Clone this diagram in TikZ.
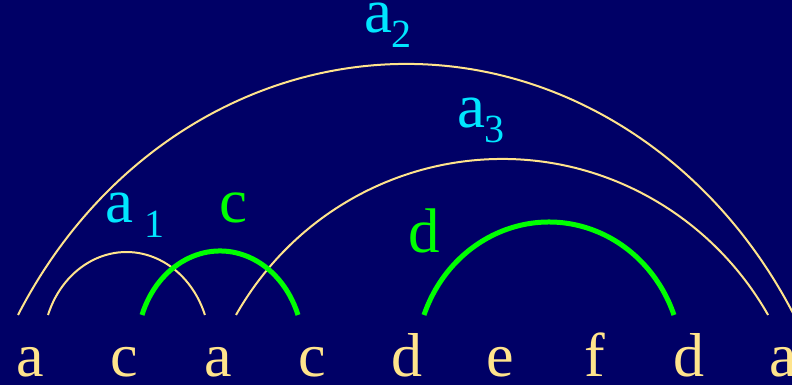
\documentclass[tikz,border=0pt]{standalone}
\usepackage{fontspec}
\setmainfont{Liberation Serif}
\definecolor{navy}{RGB}{0,0,102}
\definecolor{cream}{RGB}{255,228,140}
\definecolor{labcyan}{RGB}{0,230,255}
\definecolor{pairgreen}{RGB}{0,255,0}
\newcommand\lsub[1]{\raisebox{-15pt}{\fontsize{40}{40}\selectfont #1}}
\tikzset{
  letter/.style={anchor=base, inner sep=0pt, text=cream, font=\fontsize{62}{62}\selectfont},
  lab/.style={anchor=base, inner sep=0pt, text=labcyan, font=\fontsize{63}{63}\selectfont},
  glab/.style={lab, text=pairgreen},
  thinarc/.style={draw=cream, line width=2pt},
  thickarc/.style={draw=pairgreen, line width=5pt}
}
\begin{document}
\begin{tikzpicture}[x=1pt,y=1pt]
            \fill [navy] (0,0) rectangle (792,385);
            \useasboundingbox (0,0) rectangle (792,385);
            \clip (0,0) rectangle (792,385);
            % sequence
            \foreach \ch [count=\i] in {a,c,a,c,d,e,f,d,a}
                \node [letter] (l\i) at ({30+94.125*(\i-1)},8) {\ch};
            % arc ends
            \coordinate (a1L) at (48,70);   \coordinate (a1R) at (205,70);
            \coordinate (cL) at (142,70);   \coordinate (cR) at (298,70);
            \coordinate (dL) at (424,70);   \coordinate (dR) at (674,70);
            \coordinate (a3L) at (236,70);  \coordinate (a3R) at (768,70);
            \coordinate (a2L) at (18,70);   \coordinate (a2R) at (794,70);
            \draw [thinarc] (a2L) arc [start angle=150, end angle=30, x radius=448, y radius=502];
            \draw [thinarc] (a3L) arc [start angle=150, end angle=30, x radius=307.2, y radius=312];
            \draw [thinarc] (a1L) arc [start angle=160, end angle=20, x radius=83.5, y radius=95.7];
            \draw [thickarc] (cL) arc [start angle=160, end angle=20, x radius=83, y radius=97.3];
            \draw [thickarc] (dL) arc [start angle=160, end angle=20, x radius=133, y radius=141.3];
            % labels
            \node [lab] (la2) at (388,352) {a\lsub{2}};
            \node [lab] (la3) at (481,257) {a\lsub{3}};
            \node [lab] (la1) at (135,162) {a\,\lsub{1}};
            \node [glab] (lc) at (233.5,162) {c};
            \node [glab] (ld) at (424,132) {d};
        \end{tikzpicture}
\end{document}
